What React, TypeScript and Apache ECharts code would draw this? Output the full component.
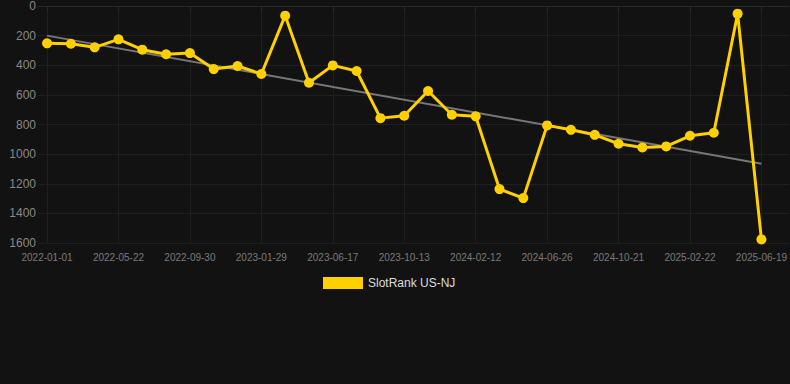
import React, { useEffect, useRef } from "react";
import * as echarts from "echarts";

const dates = [
  "2022-01-01", "2022-02-16", "2022-04-04", "2022-05-22", "2022-06-24", "2022-08-27",
  "2022-09-30", "2022-11-09", "2022-12-20", "2023-01-29", "2023-03-15", "2023-05-01",
  "2023-06-17", "2023-07-27", "2023-09-04", "2023-10-13", "2023-11-22", "2024-01-02",
  "2024-02-12", "2024-03-28", "2024-05-12", "2024-06-26", "2024-08-04", "2024-09-12",
  "2024-10-21", "2024-12-01", "2025-01-11", "2025-02-22", "2025-04-01", "2025-05-11",
  "2025-06-19",
];

const rankValues = [
  252, 255, 279, 225, 295, 326, 318, 426, 405, 459, 65, 518, 401, 439, 757, 741,
  574, 734, 745, 1236, 1297, 806, 836, 870, 930, 955, 948, 876, 856, 52, 1576,
];

const trendValues = [200, 1065];

const labelIndices = [0, 3, 6, 9, 12, 15, 18, 21, 24, 27, 30];
const yTicks = [0, 200, 400, 600, 800, 1000, 1200, 1400, 1600];

export default function App() {
  const ref = useRef<HTMLDivElement>(null);
  useEffect(() => {
    if (!ref.current) return;
    const chart = echarts.init(ref.current, null, { renderer: "svg" });
    const gridColor = "#1f1f1f";
    chart.setOption({
      animation: false,
      backgroundColor: "#121212",
      grid: { left: 38, right: 0, top: 6, bottom: 141 },
      legend: {
        show: true,
        top: 277,
        left: 323,
        padding: 0,
        itemWidth: 40,
        itemHeight: 12,
        icon: "rect",
        data: [{ name: "SlotRank US-NJ", icon: "rect" }],
        textStyle: { color: "#dddddd", fontSize: 12, fontFamily: "Liberation Sans, Arial, sans-serif" },
      },
      xAxis: {
        type: "value",
        min: -0.38,
        max: 31.17,
        axisLine: { show: true, lineStyle: { color: "#2a2a2a" } },
        axisTick: {
          show: true,
          length: 5,
          customValues: labelIndices,
          lineStyle: { color: "#2a2a2a" },
        },
        axisLabel: {
          customValues: labelIndices,
          color: "#7a7a7a",
          fontSize: 10,
          margin: 9,
          fontFamily: "Liberation Sans, Arial, sans-serif",
          formatter: (v: number) => dates[Math.round(v)] ?? "",
        },
        splitLine: { show: true, lineStyle: { color: gridColor } },
      },
      yAxis: {
        type: "value",
        inverse: true,
        min: 0,
        max: 1600,
        interval: 200,
        axisLine: { show: false },
        axisTick: { show: false },
        axisLabel: {
          color: "#888888",
          fontSize: 12,
          margin: 2,
          fontFamily: "Liberation Sans, Arial, sans-serif",
          formatter: (v: number) => (yTicks.includes(v) ? String(v) : ""),
        },
        splitLine: { show: true, lineStyle: { color: gridColor } },
      },
      series: [
        {
          name: "trend",
          type: "line",
          data: [
            [0, trendValues[0]],
            [dates.length - 1, trendValues[1]],
          ],
          symbol: "none",
          lineStyle: { color: "#777777", width: 2 },
          silent: true,
          z: 1,
        },
        {
          name: "SlotRank US-NJ",
          type: "line",
          data: rankValues.map((v, i) => [i, v]),
          symbol: "circle",
          symbolSize: 10,
          itemStyle: { color: "#FFD000" },
          lineStyle: { color: "#FFD000", width: 3 },
          z: 2,
        },
      ],
    });
    return () => chart.dispose();
  }, []);
  return (
    <div
      ref={ref}
      style={{ position: "fixed", left: 0, top: 0, width: 790, height: 384 }}
    />
  );
}
